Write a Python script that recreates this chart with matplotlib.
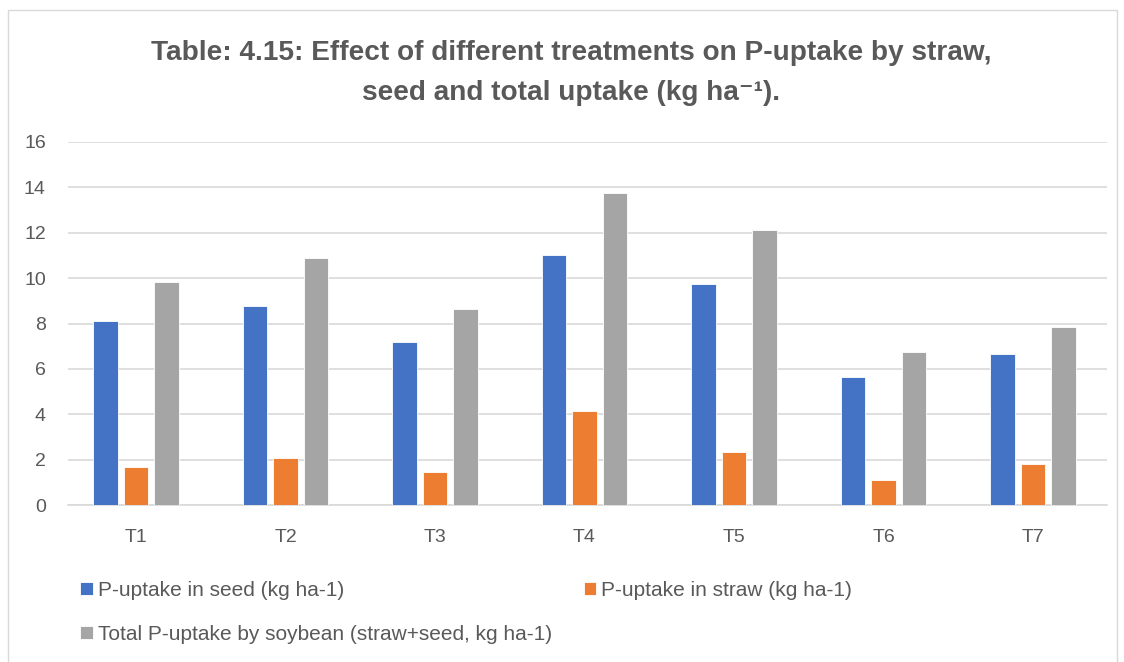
import matplotlib
matplotlib.use("Agg")
import matplotlib.pyplot as plt
import numpy as np
from matplotlib.patches import Rectangle

categories = ["T1", "T2", "T3", "T4", "T5", "T6", "T7"]
seed = [8.10, 8.79, 7.19, 11.00, 9.75, 5.66, 6.65]
straw = [1.69, 2.06, 1.44, 4.13, 2.34, 1.09, 1.79]
total = [9.81, 10.90, 8.63, 13.76, 12.12, 6.75, 7.85]
series_names = ["P-uptake in seed (kg ha-1)", "P-uptake in straw (kg ha-1)",
                "Total P-uptake by soybean (straw+seed, kg ha-1)"]
colors = ["#4472C4", "#ED7D31", "#A5A5A5"]
yticks = [0, 2, 4, 6, 8, 10, 12, 14, 16]

plt.rcParams['font.family'] = ['Liberation Sans', 'DejaVu Sans']
W, H = 1124, 662
fig = plt.figure(figsize=(W/100, H/100), dpi=100)
ax = fig.add_axes([68/W, 1-505/H, (1107-68)/W, (505-142)/H])

x = np.arange(len(categories))
bw = 0.164
step = 0.205
for i, (vals, name, c) in enumerate(zip([seed, straw, total], series_names, colors)):
    ax.bar(x + (i-1)*step, vals, width=bw, color=c, label=name, zorder=3,
           edgecolor='white', linewidth=0.6)

ax.set_xlim(-0.455, 6.495)
ax.set_ylim(0, 16)
ax.set_yticks(yticks)
ax.set_xticks(x)
ax.set_xticklabels(categories)
ax.grid(axis='y', color='#D9D9D9', linewidth=1.2, zorder=0)
for s in ['top', 'right', 'left']:
    ax.spines[s].set_visible(False)
ax.spines['bottom'].set_color('#D9D9D9')
ax.spines['bottom'].set_linewidth(1.2)
ax.tick_params(axis='both', length=0, colors='#595959', labelsize=14)
ax.tick_params(axis='y', pad=16)
ax.tick_params(axis='x', pad=17)

fig.text(0.508, 1-53/H, "Table: 4.15: Effect of different treatments on P-uptake by straw,",
         ha='center', va='center', fontsize=20.2, fontweight='bold', color='#595959')
fig.text(0.508, 1-93/H, "seed and total uptake (kg ha\u207b\u00b9).",
         ha='center', va='center', fontsize=20.2, fontweight='bold', color='#595959',
         family=['Liberation Sans', 'DejaVu Sans'])

h, l = ax.get_legend_handles_labels()
leg_kw = dict(frameon=False, fontsize=15, handlelength=0.6, handleheight=0.6,
              handletextpad=0.25, labelcolor='#595959', borderpad=0, borderaxespad=0)
fig.legend([h[0], h[1]], [l[0], l[1]], loc='center left', bbox_to_anchor=(80/W, 1-590/H),
           ncol=2, columnspacing=11.5, **leg_kw)
fig.legend([h[2]], [l[2]], loc='center left', bbox_to_anchor=(80/W, 1-634/H), **leg_kw)

fig.patches.append(Rectangle((8/W, -0.01), (1117-8)/W, 1-10/H+0.01, transform=fig.transFigure,
                             fill=False, edgecolor='#D9D9D9', linewidth=1))

fig.savefig("out.png", dpi=100, facecolor='white')
